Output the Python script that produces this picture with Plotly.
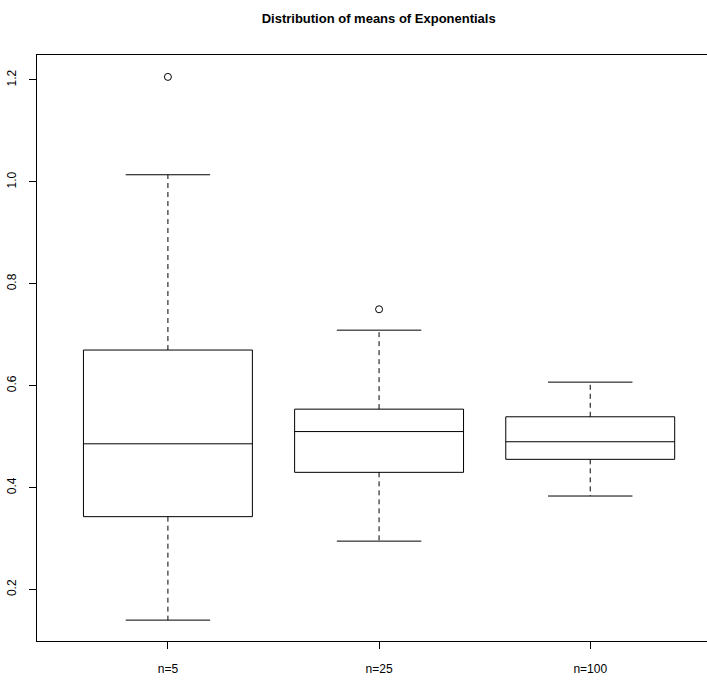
import plotly.graph_objects as go

# Summary statistics of the sample means for each sample size
groups = ["n=5", "n=25", "n=100"]
lower_whisker = [0.140, 0.295, 0.3835]
q1 = [0.343, 0.430, 0.4555]
median = [0.486, 0.510, 0.490]
q3 = [0.670, 0.554, 0.539]
upper_whisker = [1.014, 0.709, 0.607]
outliers = [[1.206], [0.750], []]

BOX_W = 0.8        # box width in axis units
CAP_W = 0.4        # whisker cap width
INK = "black"

fig = go.Figure()

for i, name in enumerate(groups):
    x = i + 1
    left, right = x - BOX_W / 2, x + BOX_W / 2
    cl, cr = x - CAP_W / 2, x + CAP_W / 2

    # box outline and median
    fig.add_trace(go.Scatter(
        x=[left, right, right, left, left, None, left, right],
        y=[q1[i], q1[i], q3[i], q3[i], q1[i], None, median[i], median[i]],
        mode="lines", line=dict(color=INK, width=1),
        hoverinfo="skip", showlegend=False))

    # dashed whiskers
    fig.add_trace(go.Scatter(
        x=[x, x, None, x, x],
        y=[q3[i], upper_whisker[i], None, q1[i], lower_whisker[i]],
        mode="lines", line=dict(color=INK, width=1, dash="5px,4px"),
        hoverinfo="skip", showlegend=False))

    # whisker caps
    fig.add_trace(go.Scatter(
        x=[cl, cr, None, cl, cr],
        y=[upper_whisker[i], upper_whisker[i], None,
           lower_whisker[i], lower_whisker[i]],
        mode="lines", line=dict(color=INK, width=1),
        hoverinfo="skip", showlegend=False))

    # outlying points
    if outliers[i]:
        fig.add_trace(go.Scatter(
            x=[x] * len(outliers[i]), y=outliers[i], mode="markers",
            marker=dict(symbol="circle-open", size=7,
                        line=dict(color=INK, width=1), color=INK),
            hoverinfo="skip", showlegend=False))

font = "Liberation Sans, Arial, Helvetica, sans-serif"

fig.update_layout(
    width=707, height=682,
    margin=dict(l=37, r=0, t=55, b=41),
    paper_bgcolor="white", plot_bgcolor="white",
    font=dict(family=font, size=12, color="black"),
    title=dict(text="<b>Distribution of means of Exponentials</b>",
               x=0.51, xref="paper", xanchor="center",
               y=1 - 18 / 682, yref="container", yanchor="middle",
               font=dict(family=font, size=13, color="black")),
    xaxis=dict(range=[0.38, 3.553], tickvals=[1, 2, 3], ticktext=groups,
               showgrid=False, zeroline=False,
               showline=True, linecolor=INK, linewidth=1, mirror=True,
               ticks="outside", ticklen=7, tickcolor=INK, tickwidth=1,
               ticklabelstandoff=10,
               tickfont=dict(family=font, size=12, color="black")),
    yaxis=dict(range=[0.099, 1.249], tickvals=[0.2, 0.4, 0.6, 0.8, 1.0, 1.2],
               ticktext=["0.2", "0.4", "0.6", "0.8", "1.0", "1.2"],
               showgrid=False, zeroline=False,
               showline=True, linecolor=INK, linewidth=1, mirror=False,
               ticks="outside", ticklen=7, tickcolor=INK, tickwidth=1,
               tickangle=-90, ticklabelstandoff=8,
               tickfont=dict(family=font, size=12, color="black")),
)

fig.write_html("out.html")
